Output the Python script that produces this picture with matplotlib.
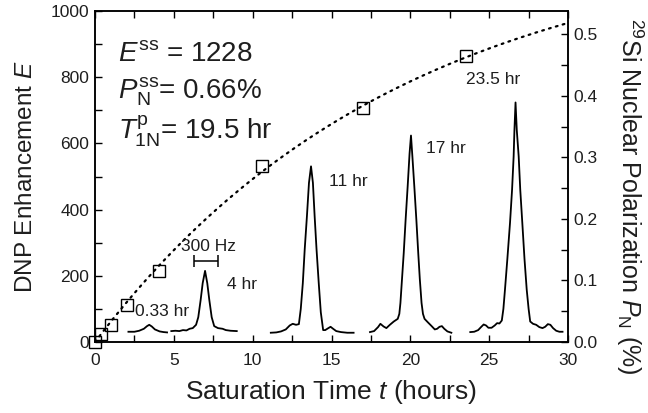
import numpy as np
import matplotlib
matplotlib.use("Agg")
import matplotlib.pyplot as plt
from matplotlib.ticker import MultipleLocator

plt.rcParams['font.family'] = ['Liberation Sans', 'DejaVu Sans']
plt.rcParams['mathtext.fontset'] = 'custom'
plt.rcParams['mathtext.rm'] = 'Liberation Sans'
plt.rcParams['mathtext.it'] = 'Liberation Sans:italic'
plt.rcParams['mathtext.bf'] = 'Liberation Sans:bold'

TXT = '#1e1e1e'

# ---- data ----
sat_time = [0, 0.38, 1.0, 2.0, 4.07, 10.6, 17.0, 23.5]
enhancement = [0, 24, 50, 112, 215, 533, 708, 864]

E_SS = 1228.0
T1N = 19.5
P_PER_E = 0.66 / 1228.0

spec_033_t = [2.12, 2.5, 2.8, 3.1, 3.3, 3.44, 3.6, 3.8, 4.1, 4.35, 4.57]
spec_033_E = [31, 31, 34, 40, 48, 52, 47, 38, 32, 30, 29]

spec_4_t = [4.84, 5.1, 5.35, 5.58, 5.8, 6.0, 6.2, 6.41, 6.55, 6.7, 6.83, 6.98,
            7.12, 7.25, 7.4, 7.56, 7.8, 8.09, 8.3, 8.6, 8.99]
spec_4_E = [33, 34, 33, 36, 35, 40, 42, 52, 75, 127, 178, 215,
            178, 127, 75, 48, 42, 40, 36, 34, 33]

spec_11_t = [11.15, 11.5, 11.8, 12.1, 12.35, 12.54, 12.75, 12.93, 13.05, 13.18,
             13.3, 13.44, 13.57, 13.7, 13.82, 13.93, 14.05, 14.19, 14.32, 14.47,
             14.6, 14.8, 14.94, 15.1, 15.3, 15.6, 16.0, 16.4]
spec_11_E = [28, 29, 32, 38, 50, 55, 52, 54, 100, 178,
             280, 380, 481, 531, 481, 380, 280, 178, 90, 36,
             36, 42, 46, 40, 33, 30, 28, 28]

spec_17_t = [17.44, 17.7, 17.95, 18.1, 18.3, 18.48, 18.7, 18.95, 19.2, 19.3,
             19.37, 19.47, 19.58, 19.7, 19.83, 19.95, 20.04, 20.13, 20.25, 20.38,
             20.5, 20.6, 20.71, 20.8, 20.9, 21.1, 21.35, 21.55, 21.7, 21.85,
             22.0, 22.15, 22.35, 22.6]
spec_17_E = [30, 33, 45, 55, 47, 42, 52, 62, 70, 85,
             118, 190, 269, 370, 471, 570, 624, 560, 471, 370,
             269, 190, 118, 85, 70, 60, 48, 38, 40, 46,
             48, 40, 32, 28]

spec_235_t = [23.8, 24.05, 24.3, 24.5, 24.65, 24.8, 24.95, 25.15, 25.35, 25.5,
              25.65, 25.8, 25.9, 26.0, 26.15, 26.32, 26.45, 26.55, 26.6, 26.67,
              26.75, 26.87, 26.97, 27.1, 27.24, 27.38, 27.5, 27.6, 27.78, 27.98,
              28.18, 28.38, 28.55, 28.72, 28.88, 29.05, 29.25, 29.45, 29.65]
spec_235_E = [30, 31, 36, 46, 53, 50, 43, 43, 50, 57,
              56, 65, 100, 158, 250, 360, 460, 561, 640, 724,
              640, 561, 460, 360, 250, 158, 100, 62, 55, 52,
              45, 42, 46, 54, 52, 42, 34, 31, 31]

spectra = [(spec_033_t, spec_033_E), (spec_4_t, spec_4_E), (spec_11_t, spec_11_E),
           (spec_17_t, spec_17_E), (spec_235_t, spec_235_E)]

spec_labels = ["0.33 hr", "4 hr", "11 hr", "17 hr", "23.5 hr"]
spec_label_pos = [(2.55, 91), (8.35, 173), (14.87, 485), (21.0, 585), (23.5, 794)]

# ---- figure ----
fig = plt.figure(figsize=(6.48, 4.13), dpi=100)
ax = fig.add_axes([0.1466, 0.1719, 0.7300, 0.8011])

fit_t = np.linspace(0, 30, 300)
fit_E = E_SS * (1 - np.exp(-fit_t / T1N))
ax.plot(fit_t, fit_E, linestyle=(0, (0.8, 2.4)), color='black', lw=1.6,
        dash_capstyle='round')

ax.plot(sat_time, enhancement, linestyle='none', marker='s', markersize=8,
        markerfacecolor='none', markeredgecolor='black', markeredgewidth=1.0,
        clip_on=False, zorder=5)

for st, se in spectra:
    ax.plot(st, se, color='black', lw=1.3)

for lab, (x, y) in zip(spec_labels, spec_label_pos):
    ax.text(x, y, lab, fontsize=12.5, ha='left', va='center', color=TXT)

# 300 Hz scale bar
ax.errorbar([7.02], [245], xerr=[0.76], color='black', lw=1.1, capsize=4,
            capthick=1.1)
ax.text(7.2, 290, "300 Hz", fontsize=12.5, ha='center', va='center', color=TXT)

# parameter block
ax.text(1.45, 870, r"$E^{\rm ss}$ = 1228", fontsize=20, ha='left', va='center', color=TXT)
ax.text(1.45, 755, r"$P_{\rm N}^{\rm ss}$= 0.66%", fontsize=20, ha='left', va='center', color=TXT)
ax.text(1.45, 636, r"$T_{\rm 1N}^{\rm p}$= 19.5 hr", fontsize=20, ha='left', va='center', color=TXT)

ax.set_xlim(0, 30)
ax.set_ylim(0, 1000)
ax.xaxis.set_major_locator(MultipleLocator(5))
ax.xaxis.set_minor_locator(MultipleLocator(2.5))
ax.yaxis.set_major_locator(MultipleLocator(200))
ax.yaxis.set_minor_locator(MultipleLocator(100))
ax.tick_params(which='both', direction='in', top=True, right=False,
               labelsize=12.5, width=1.0, color='black', labelcolor=TXT)
ax.tick_params(which='both', length=5)
ax.tick_params(axis='x', pad=8)
ax.tick_params(axis='y', pad=4)
for s in ax.spines.values():
    s.set_linewidth(1.1)

ax.set_xlabel(r"Saturation Time $t$ (hours)", fontsize=19, labelpad=7, color=TXT)
ax.set_ylabel(r"DNP Enhancement $E$", fontsize=17.5, labelpad=10, color=TXT)

ax2 = ax.twinx()
ax2.set_ylim(0, 1000 * P_PER_E)
ax2.yaxis.set_major_locator(MultipleLocator(0.1))
ax2.yaxis.set_minor_locator(MultipleLocator(0.05))
ax2.yaxis.set_major_formatter(matplotlib.ticker.FormatStrFormatter('%.1f'))
ax2.tick_params(which='both', direction='in', labelsize=12.5, length=5, width=1.0,
                labelcolor=TXT)
ax2.set_ylabel(r"$^{29}$Si Nuclear Polarization $P_{\rm N}$ (%)", fontsize=18,
               rotation=270, color=TXT, va='center', ha='center')
ax2.yaxis.set_label_coords(1.131, 0.44)
for s in ax2.spines.values():
    s.set_linewidth(1.1)

fig.savefig("out.png", dpi=100)
